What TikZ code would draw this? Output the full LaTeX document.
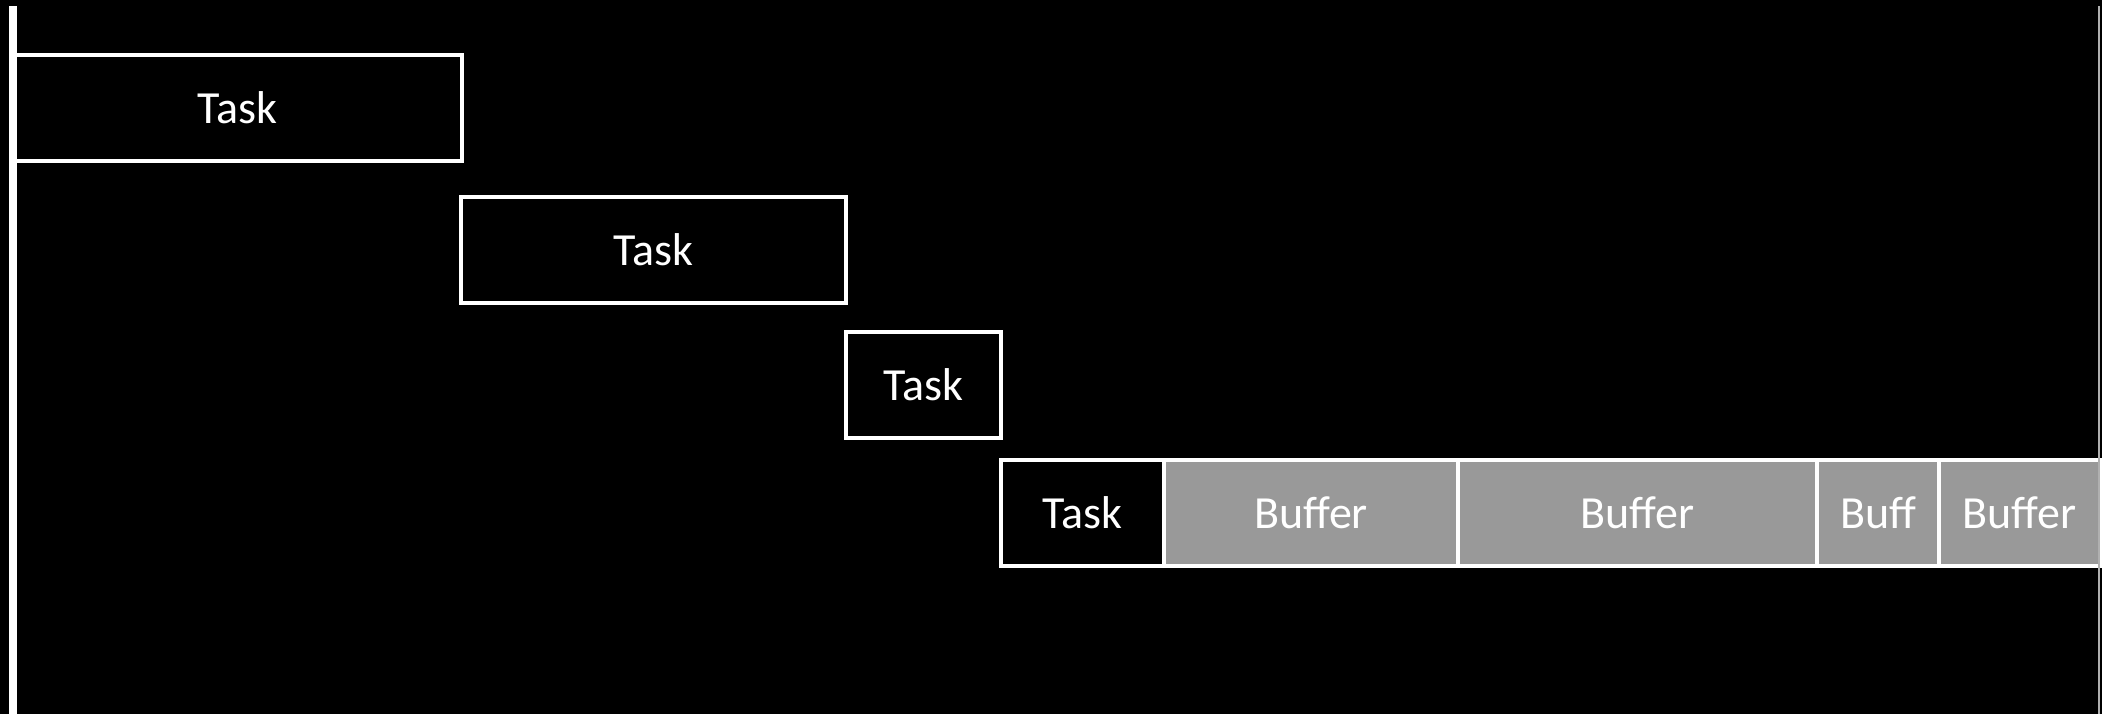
\documentclass[tikz,border=0pt]{standalone}
\usepackage{fontspec}
\setmainfont{Carlito}
\definecolor{bufgray}{HTML}{999999}
\definecolor{axisgray}{HTML}{B0B0B0}
\begin{document}
\begin{tikzpicture}[x=0.5pt,y=-0.5pt,
  box/.style={rectangle, draw=white, line width=2pt, inner sep=0pt, outer sep=0pt,
    minimum height=53pt, text=white, font=\fontsize{23}{27}\selectfont},
  taskbox/.style={box, fill=black},
  bufbox/.style={box, fill=bufgray}]
\fill[black] (0,0) rectangle (2102,714);
\useasboundingbox (0,0) rectangle (2102,714);
\node[taskbox, minimum width=224.5pt] (t1) at (237.5,108) {Task};
\node[taskbox, minimum width=192.5pt] (t2) at (653.5,249.5) {Task};
\node[taskbox, minimum width=77.5pt] (t3) at (923.5,384.5) {Task};
\node[taskbox, minimum width=81.5pt] (t4) at (1082.5,513) {Task};
\node[bufbox, minimum width=147pt] (b1) at (1311,513) {Buffer};
\node[bufbox, minimum width=179.5pt] (b2) at (1637.5,513) {Buffer};
\node[bufbox, minimum width=61pt] (b3) at (1878,513) {Buff};
\node[bufbox, minimum width=80.5pt] (b4) at (2019.5,513) {Buffer};
\coordinate (ltop) at (13,6);
\coordinate (lbot) at (13,714);
\coordinate (rtop) at (2099,6);
\coordinate (rbot) at (2099,714);
\draw[white, line width=4pt] (ltop) -- (lbot);
\draw[axisgray, line width=1pt] (rtop) -- (rbot);
\end{tikzpicture}
\end{document}
